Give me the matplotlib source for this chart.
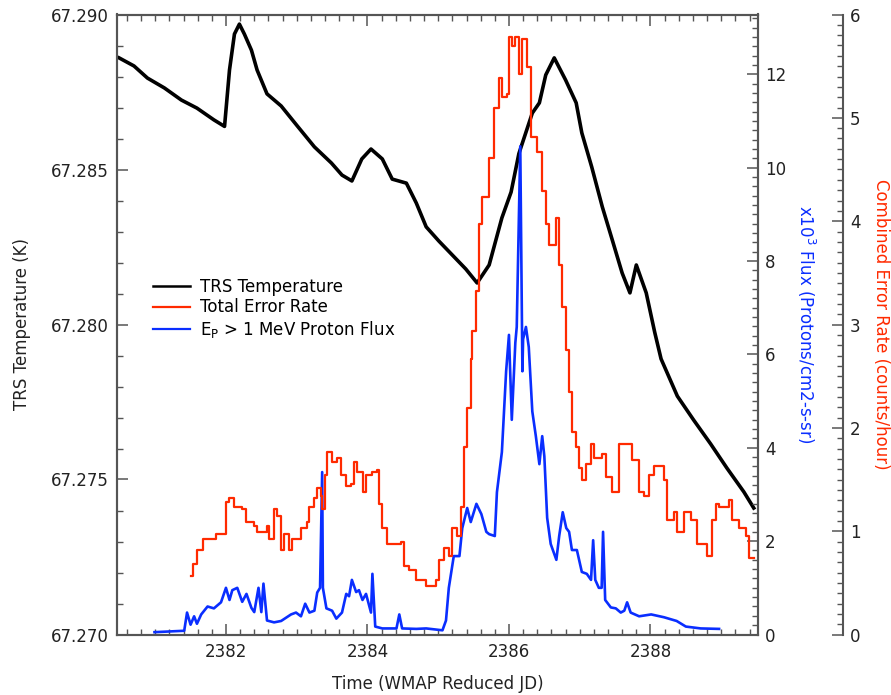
import matplotlib
matplotlib.use("Agg")
import matplotlib.pyplot as plt
from matplotlib.ticker import MultipleLocator, FormatStrFormatter
from matplotlib.lines import Line2D

plt.rcParams['font.family'] = ['DejaVu Sans']

# ---- data ----
temp_time = [2380.49, 2380.70, 2380.89, 2381.13, 2381.37, 2381.59, 2381.83, 2381.98,
             2382.05, 2382.12, 2382.19, 2382.26, 2382.36, 2382.44, 2382.58, 2382.78,
             2383.01, 2383.25, 2383.49, 2383.64, 2383.78, 2383.92, 2384.05, 2384.21,
             2384.35, 2384.55, 2384.69, 2384.83, 2385.01, 2385.20, 2385.39, 2385.55,
             2385.72, 2385.90, 2386.03, 2386.14, 2386.33, 2386.43, 2386.52, 2386.64,
             2386.80, 2386.95, 2387.03, 2387.17, 2387.32, 2387.46, 2387.60, 2387.71,
             2387.80, 2387.94, 2388.06, 2388.15, 2388.38, 2388.61, 2388.85, 2389.08,
             2389.32, 2389.46]
temp_K = [67.28860, 67.28834, 67.28795, 67.28763, 67.28724, 67.28698, 67.28660, 67.28639,
          67.28821, 67.28937, 67.28969, 67.28937, 67.28885, 67.28821, 67.28744, 67.28705,
          67.28640, 67.28573, 67.28521, 67.28482, 67.28463, 67.28534, 67.28566, 67.28534,
          67.28469, 67.28456, 67.28392, 67.28315, 67.28269, 67.28224, 67.28179, 67.28134,
          67.28192, 67.28344, 67.28427, 67.28551, 67.28682, 67.28715, 67.28805, 67.28860,
          67.28789, 67.28715, 67.28618, 67.28508, 67.28379, 67.28273, 67.28166, 67.28102,
          67.28192, 67.28102, 67.27975, 67.27889, 67.27769, 67.27692, 67.27615, 67.27537,
          67.27460, 67.27408]

err_time = [2381.50, 2381.54, 2381.59, 2381.67, 2381.83, 2381.86, 2381.98, 2382.00,
            2382.05, 2382.12, 2382.22, 2382.29, 2382.40, 2382.44, 2382.58, 2382.61,
            2382.68, 2382.72, 2382.78, 2382.82, 2382.89, 2382.94, 2383.04, 2383.06,
            2383.15, 2383.18, 2383.25, 2383.29, 2383.35, 2383.36, 2383.40, 2383.43,
            2383.50, 2383.57, 2383.63, 2383.70, 2383.77, 2383.81, 2383.85, 2383.93,
            2383.98, 2384.07, 2384.14, 2384.17, 2384.21, 2384.28, 2384.41, 2384.48,
            2384.52, 2384.59, 2384.66, 2384.69, 2384.83, 2384.97, 2385.01, 2385.08,
            2385.15, 2385.20, 2385.27, 2385.32, 2385.37, 2385.41, 2385.46, 2385.48,
            2385.54, 2385.58, 2385.62, 2385.72, 2385.79, 2385.86, 2385.90, 2385.97,
            2386.00, 2386.04, 2386.08, 2386.14, 2386.19, 2386.26, 2386.31, 2386.40,
            2386.47, 2386.52, 2386.57, 2386.67, 2386.71, 2386.75, 2386.81, 2386.85,
            2386.89, 2386.95, 2386.99, 2387.03, 2387.09, 2387.16, 2387.20, 2387.31,
            2387.37, 2387.46, 2387.56, 2387.65, 2387.74, 2387.84, 2387.91, 2387.98,
            2388.05, 2388.19, 2388.23, 2388.33, 2388.37, 2388.47, 2388.57, 2388.66,
            2388.73, 2388.80, 2388.87, 2388.93, 2388.97, 2389.11, 2389.15, 2389.25,
            2389.35, 2389.39, 2389.46]
err_rate = [0.57, 0.68, 0.82, 0.92, 0.92, 0.97, 0.97, 1.28,
            1.32, 1.23, 1.21, 1.09, 1.05, 0.99, 1.05, 0.92,
            1.21, 1.15, 0.82, 0.97, 0.82, 0.92, 0.92, 1.03,
            1.09, 1.23, 1.32, 1.42, 1.34, 1.21, 1.54, 1.77,
            1.67, 1.71, 1.54, 1.44, 1.46, 1.67, 1.57, 1.38,
            1.54, 1.57, 1.59, 1.26, 1.03, 0.88, 0.88, 0.90,
            0.66, 0.62, 0.62, 0.53, 0.47, 0.53, 0.72, 0.84,
            0.76, 1.03, 0.95, 1.23, 1.81, 2.19, 2.67, 2.94,
            3.32, 3.97, 4.23, 4.61, 5.10, 5.39, 5.20, 5.23,
            5.78, 5.70, 5.78, 5.42, 5.76, 5.49, 4.81, 4.67,
            4.29, 3.97, 3.77, 4.03, 3.58, 3.17, 2.75, 2.35,
            1.96, 1.81, 1.61, 1.50, 1.65, 1.84, 1.71, 1.75,
            1.52, 1.38, 1.84, 1.84, 1.69, 1.38, 1.34, 1.54,
            1.63, 1.50, 1.11, 1.19, 0.99, 1.19, 1.11, 0.88,
            0.88, 0.76, 1.11, 1.26, 1.23, 1.30, 1.11, 1.03,
            0.95, 0.74, 0.74]

flux_time = [2380.99, 2381.41, 2381.45, 2381.50, 2381.55, 2381.59, 2381.65, 2381.74,
             2381.83, 2381.93, 2382.00, 2382.05, 2382.09, 2382.16, 2382.23, 2382.29,
             2382.36, 2382.40, 2382.46, 2382.50, 2382.53, 2382.58, 2382.68, 2382.78,
             2382.92, 2382.99, 2383.06, 2383.12, 2383.18, 2383.25, 2383.29, 2383.33,
             2383.36, 2383.37, 2383.42, 2383.50, 2383.56, 2383.64, 2383.70, 2383.74,
             2383.78, 2383.84, 2383.88, 2383.93, 2383.98, 2384.05, 2384.07, 2384.11,
             2384.21, 2384.41, 2384.45, 2384.49, 2384.69, 2384.83, 2385.06, 2385.11,
             2385.15, 2385.22, 2385.30, 2385.34, 2385.41, 2385.46, 2385.54, 2385.61,
             2385.68, 2385.72, 2385.80, 2385.83, 2385.90, 2385.96, 2386.00, 2386.04,
             2386.09, 2386.11, 2386.16, 2386.19, 2386.20, 2386.24, 2386.28, 2386.33,
             2386.38, 2386.43, 2386.47, 2386.50, 2386.54, 2386.59, 2386.67, 2386.71,
             2386.76, 2386.81, 2386.85, 2386.89, 2386.96, 2387.03, 2387.10, 2387.16,
             2387.19, 2387.22, 2387.27, 2387.31, 2387.33, 2387.36, 2387.44, 2387.51,
             2387.58, 2387.63, 2387.67, 2387.72, 2387.84, 2388.01, 2388.19, 2388.37,
             2388.50, 2388.71, 2388.97]
flux_e3 = [0.05, 0.08, 0.47, 0.21, 0.39, 0.23, 0.43, 0.60,
           0.56, 0.69, 1.00, 0.74, 0.95, 1.00, 0.70, 0.87,
           0.57, 0.48, 1.00, 0.48, 1.09, 0.30, 0.26, 0.29,
           0.43, 0.47, 0.39, 0.66, 0.47, 0.51, 0.90, 1.00,
           3.48, 1.00, 0.56, 0.51, 0.34, 0.47, 0.87, 0.82,
           1.17, 0.91, 0.95, 0.74, 0.87, 0.47, 1.30, 0.17,
           0.13, 0.13, 0.43, 0.13, 0.12, 0.13, 0.09, 0.30,
           1.00, 1.68, 1.68, 2.28, 2.71, 2.41, 2.80, 2.58,
           2.20, 2.15, 2.11, 3.05, 3.91, 5.64, 6.42, 4.60,
           6.25, 6.59, 10.46, 5.64, 6.33, 6.59, 6.16, 4.78,
           4.25, 3.65, 4.25, 3.82, 2.50, 1.94, 1.60, 2.11,
           2.62, 2.28, 2.20, 1.81, 1.81, 1.34, 1.30, 1.17,
           2.02, 1.17, 1.00, 1.00, 2.20, 0.74, 0.58, 0.56,
           0.47, 0.51, 0.69, 0.47, 0.39, 0.43, 0.37, 0.29,
           0.17, 0.13, 0.12]

legend_labels = ["TRS Temperature", "Total Error Rate", r"E$_\mathrm{P}$ > 1 MeV Proton Flux"]

BLACK = "black"
RED = "#ff2a00"
BLUE = "#0a2eff"
SPINE = "#555555"
FS = 12

fig = plt.figure(figsize=(8.91, 6.95), dpi=100)
ax = fig.add_axes([117/891, 1-634.5/695, 641/891, 620/695])
ax2 = ax.twinx()
ax3 = ax.twinx()

ax.plot(temp_time, temp_K, color=BLACK, lw=2.6, zorder=3)
ax2.plot(flux_time, flux_e3, color=BLUE, lw=1.9)
ax3.plot(err_time, err_rate, color=RED, lw=1.6, drawstyle='steps-post')

ax.set_xlim(2380.46, 2389.52)
ax.set_ylim(67.270, 67.290)
ax2.set_ylim(0, 13.285)
ax3.set_ylim(0, 6.0)

for a in (ax, ax2, ax3):
    a.patch.set_visible(False)
    for s in a.spines.values():
        s.set_color(SPINE)
        s.set_linewidth(1.5)

ax.xaxis.set_major_locator(MultipleLocator(2))
ax.xaxis.set_minor_locator(MultipleLocator(0.2))
ax.xaxis.set_major_formatter(FormatStrFormatter('%d'))
ax.yaxis.set_major_locator(MultipleLocator(0.005))
ax.yaxis.set_minor_locator(MultipleLocator(0.001))
ax.yaxis.set_major_formatter(FormatStrFormatter('%.3f'))
ax.tick_params(axis='both', which='both', direction='in', top=True, right=False,
               color=SPINE, labelsize=FS, labelcolor='#222222')
ax.tick_params(which='major', length=8, width=1.1, pad=6)
ax.tick_params(which='minor', length=4.5, width=1.0)

ax2.yaxis.set_major_locator(MultipleLocator(2))
ax2.yaxis.set_minor_locator(MultipleLocator(0.2))
ax2.tick_params(axis='y', which='both', direction='in', color=SPINE,
                labelsize=FS, labelcolor='#222222')
ax2.tick_params(which='major', length=8, width=1.1, pad=5)
ax2.tick_params(which='minor', length=4.5, width=1.0)

ax3.spines['right'].set_position(('axes', (843-117)/641))
for side in ('left', 'top', 'bottom'):
    ax3.spines[side].set_visible(False)
ax3.yaxis.set_major_locator(MultipleLocator(1))
ax3.yaxis.set_minor_locator(MultipleLocator(0.1))
ax3.tick_params(axis='y', which='both', direction='in', color=SPINE,
                labelsize=FS, labelcolor='#222222')
ax3.tick_params(which='major', length=8, width=1.1, pad=5)
ax3.tick_params(which='minor', length=4.5, width=1.0)

ax.set_xlabel("Time (WMAP Reduced JD)", fontsize=FS, color='#222222', labelpad=10)
ax.set_ylabel("TRS Temperature (K)", fontsize=FS, color='#222222', labelpad=14)
ax2.set_ylabel(r"x10$^3$ Flux (Protons/cm2-s-sr)", fontsize=FS, color=BLUE,
               rotation=270, labelpad=22)
ax3.set_ylabel("Combined Error Rate (counts/hour)", fontsize=FS, color=RED,
               rotation=270, labelpad=21)

handles = [Line2D([], [], color=BLACK, lw=1.8), Line2D([], [], color=RED, lw=1.6),
           Line2D([], [], color=BLUE, lw=1.6)]
ax3.legend(handles, legend_labels, loc='upper left',
           bbox_to_anchor=(36/641, (634.5-278)/620), frameon=False, fontsize=FS,
           borderpad=0, borderaxespad=0, handlelength=2.2, handletextpad=0.6,
           labelspacing=0.15)

fig.savefig("out.png", dpi=100)
